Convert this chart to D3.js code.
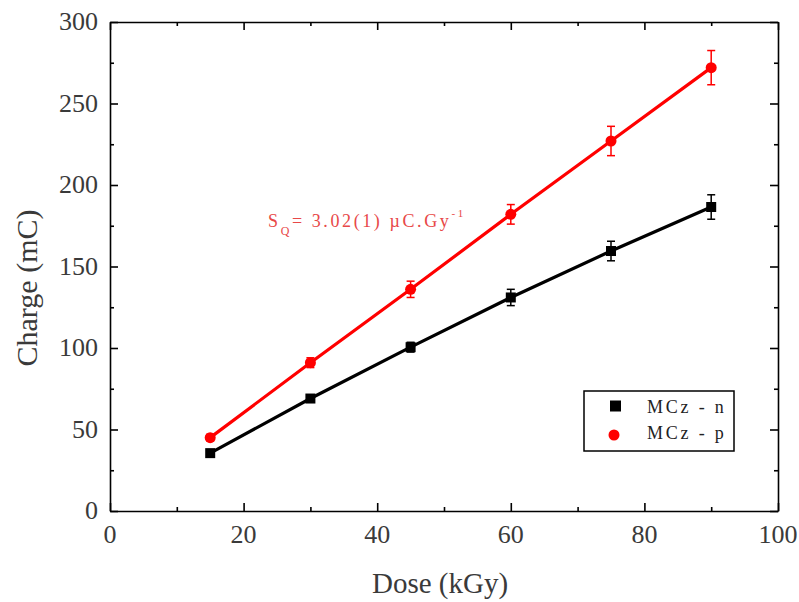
<!DOCTYPE html>
<html>
<head>
<meta charset="utf-8">
<script src="https://cdn.jsdelivr.net/npm/d3@7"></script>
<style>
body { margin: 0; background: #fff; }
</style>
</head>
<body>
<div id="chart"></div>
<script>
var w = 799,
	h = 602;

var doses = [15, 30, 45, 60, 75, 90];
var chargeN = [35.5, 69, 100.5, 131, 159.5, 186.5];
var errN = [1.5, 2, 3, 5, 6, 7.5];
var chargeP = [45, 91, 136, 182, 227, 272];
var errP = [2, 3, 5, 6, 9, 10.5];
var xTicks = [0, 20, 40, 60, 80, 100];
var yTicks = [0, 50, 100, 150, 200, 250, 300];

var margin = {left: 110, right: 21, top: 22, bottom: 91};

var svg = d3.select("#chart")
	.append("svg")
	.attr("width", w)
	.attr("height", h);

var x = d3.scaleLinear().domain([0, 100]).range([margin.left, w - margin.right]);
var y = d3.scaleLinear().domain([0, 300]).range([h - margin.bottom, margin.top]);

// frame with inward ticks on all four sides
function tickAxis(axisFn, scale, pos, major, minor) {
	var g = svg.append("g").attr("transform", pos);
	g.call(axisFn(scale).tickValues(minor).tickSize(-4).tickFormat(""));
	g.select(".domain").remove();
	g.selectAll("line").attr("stroke", "#000").attr("stroke-width", 1.6);
	var g2 = svg.append("g").attr("transform", pos);
	g2.call(axisFn(scale).tickValues(major).tickSize(-8).tickFormat("").tickSizeOuter(0));
	g2.selectAll("path, line").attr("stroke", "#000").attr("stroke-width", 1.6);
}

var xMinor = d3.range(10, 100, 20);
var yMinor = d3.range(25, 300, 50);

tickAxis(d3.axisBottom, x, "translate(0," + y(0) + ")", xTicks, xMinor);
tickAxis(d3.axisTop, x, "translate(0," + y(300) + ")", xTicks, xMinor);
tickAxis(d3.axisLeft, y, "translate(" + x(0) + ",0)", yTicks, yMinor);
tickAxis(d3.axisRight, y, "translate(" + x(100) + ",0)", yTicks, yMinor);

// tick labels
svg.append("g").selectAll("text")
	.data(xTicks)
	.enter()
	.append("text")
	.attr("x", function(d) { return x(d); })
	.attr("y", y(0) + 32)
	.attr("text-anchor", "middle")
	.style("font-family", "Liberation Serif")
	.style("font-size", "26px")
	.style("fill", "#3a3a3a")
	.text(function(d) { return d; });

svg.append("g").selectAll("text")
	.data(yTicks)
	.enter()
	.append("text")
	.attr("x", x(0) - 12)
	.attr("y", function(d) { return y(d) + 8; })
	.attr("text-anchor", "end")
	.style("font-family", "Liberation Serif")
	.style("font-size", "26px")
	.style("fill", "#3a3a3a")
	.text(function(d) { return d; });

svg.append("text")
	.attr("x", 440)
	.attr("y", 593)
	.attr("text-anchor", "middle")
	.style("font-family", "Liberation Serif")
	.style("font-size", "29px")
	.style("fill", "#3a3a3a")
	.text("Dose (kGy)");

svg.append("text")
	.attr("transform", "translate(37,288) rotate(-90)")
	.attr("text-anchor", "middle")
	.style("font-family", "Liberation Serif")
	.style("font-size", "30px")
	.style("fill", "#3a3a3a")
	.text("Charge (mC)");

// series
var series = [
	{name: "MCz - n", values: chargeN, errs: errN, color: "#000", shape: "square"},
	{name: "MCz - p", values: chargeP, errs: errP, color: "#f00", shape: "circle"}
];

var line = d3.line()
	.x(function(d) { return x(d[0]); })
	.y(function(d) { return y(d[1]); });

series.forEach(function(s) {
	var pts = doses.map(function(d, i) { return [d, s.values[i], s.errs[i]]; });

	svg.append("path")
		.datum(pts)
		.attr("d", line)
		.attr("fill", "none")
		.attr("stroke", s.color)
		.attr("stroke-width", 3.2);

	var eb = svg.append("g").attr("stroke", s.color).attr("stroke-width", 1.5);
	pts.forEach(function(p) {
		eb.append("line").attr("x1", x(p[0])).attr("x2", x(p[0]))
			.attr("y1", y(p[1] - p[2])).attr("y2", y(p[1] + p[2]));
		eb.append("line").attr("x1", x(p[0]) - 4).attr("x2", x(p[0]) + 4)
			.attr("y1", y(p[1] - p[2])).attr("y2", y(p[1] - p[2]));
		eb.append("line").attr("x1", x(p[0]) - 4).attr("x2", x(p[0]) + 4)
			.attr("y1", y(p[1] + p[2])).attr("y2", y(p[1] + p[2]));
	});

	if (s.shape === "square") {
		svg.append("g").selectAll("rect")
			.data(pts)
			.enter()
			.append("rect")
			.attr("x", function(d) { return x(d[0]) - 5; })
			.attr("y", function(d) { return y(d[1]) - 5; })
			.attr("width", 10)
			.attr("height", 10)
			.attr("fill", s.color);
	} else {
		svg.append("g").selectAll("circle")
			.data(pts)
			.enter()
			.append("circle")
			.attr("cx", function(d) { return x(d[0]); })
			.attr("cy", function(d) { return y(d[1]); })
			.attr("r", 5.5)
			.attr("fill", s.color);
	}
});

// annotation
var ann = svg.append("text")
	.attr("x", 268)
	.attr("y", 227)
	.style("font-family", "Liberation Serif")
	.style("font-size", "18px")
	.style("letter-spacing", "2.6px")
	.style("fill", "#e84848");
ann.append("tspan").text("S");
ann.append("tspan").attr("dy", 8).style("font-size", "12px").text("Q");
ann.append("tspan").attr("dy", -8).text("= 3.02(1) \u00b5C.Gy");
ann.append("tspan").attr("dy", -10).style("font-size", "11px").text("-1");

// legend
var lg = svg.append("g").attr("transform", "translate(584,391)");
lg.append("rect")
	.attr("width", 150)
	.attr("height", 60)
	.attr("fill", "#fff")
	.attr("stroke", "#000")
	.attr("stroke-width", 1.5);

lg.append("rect").attr("x", 26).attr("y", 9.5).attr("width", 11).attr("height", 11).attr("fill", "#000");
lg.append("circle").attr("cx", 30).attr("cy", 44).attr("r", 5.5).attr("fill", "#f00");

lg.selectAll("text.lab")
	.data(series)
	.enter()
	.append("text")
	.classed("lab", true)
	.attr("x", 63)
	.attr("y", function(d, i) { return 22 + i * 26; })
	.style("font-family", "Liberation Serif")
	.style("font-size", "18px")
	.style("letter-spacing", "2.8px")
	.style("fill", "#222")
	.text(function(d) { return d.name; });
</script>
</body>
</html>
